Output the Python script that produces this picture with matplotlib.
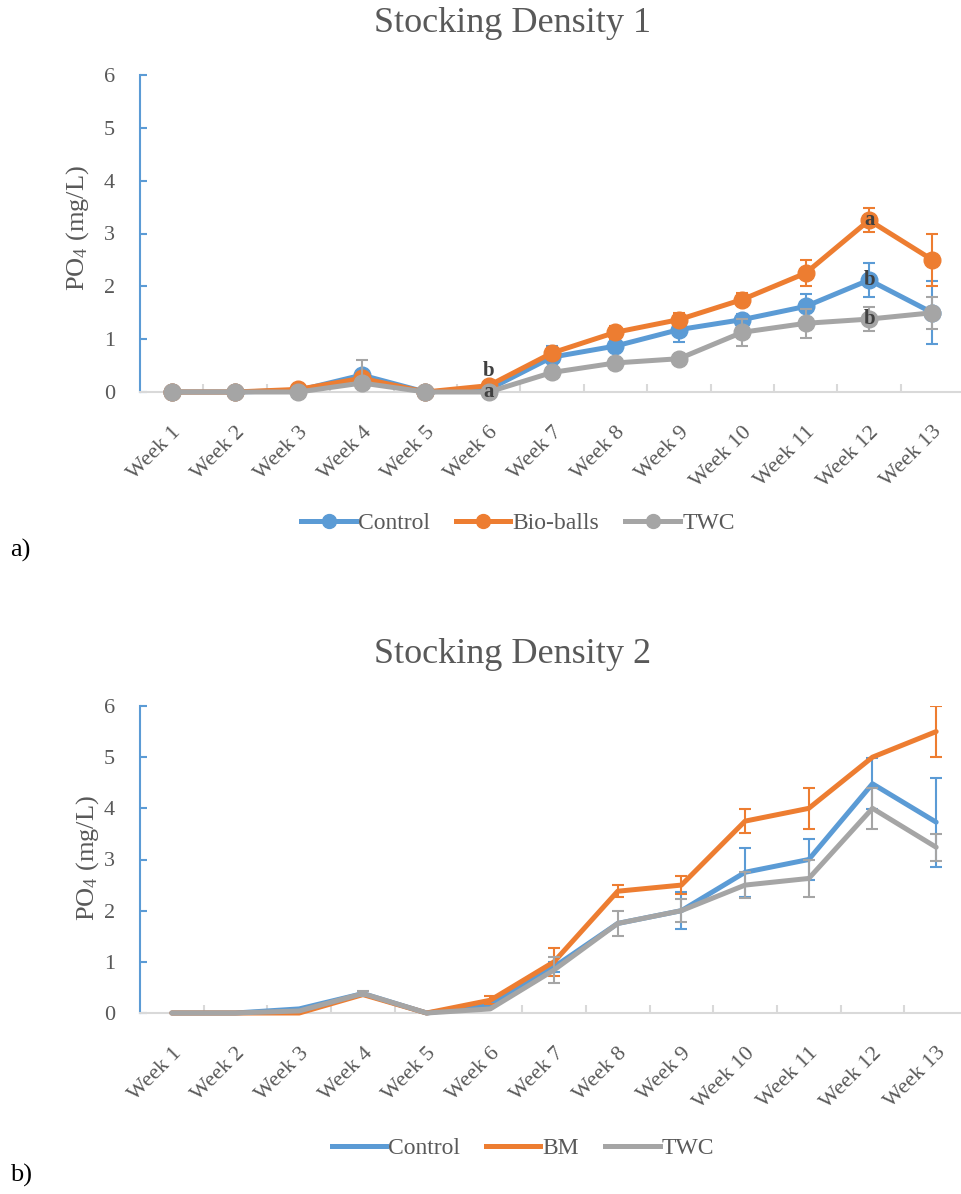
import matplotlib.pyplot as plt
import numpy as np
from matplotlib.lines import Line2D

plt.rcParams['font.family'] = ['Liberation Serif', 'DejaVu Serif']
plt.rcParams['mathtext.default'] = 'regular'

weeks = ["Week 1", "Week 2", "Week 3", "Week 4", "Week 5", "Week 6", "Week 7",
         "Week 8", "Week 9", "Week 10", "Week 11", "Week 12", "Week 13"]

# Stocking density 1 (mean PO4, mg/L) and error bars
ctrl1 = [0, 0, 0.03, 0.32, 0, 0.05, 0.66, 0.87, 1.18, 1.37, 1.62, 2.12, 1.50]
bio1 = [0, 0, 0.05, 0.26, 0, 0.12, 0.74, 1.13, 1.37, 1.75, 2.25, 3.25, 2.50]
twc1 = [0, 0, 0, 0.17, 0, 0, 0.37, 0.55, 0.63, 1.13, 1.30, 1.38, 1.50]
ctrl1_err = [0, 0, 0, 0, 0, 0, 0.22, 0.10, 0.24, 0.10, 0.23, 0.32, 0.60]
bio1_err = [0, 0, 0, 0, 0, 0, 0.10, 0.12, 0.12, 0.12, 0.25, 0.23, 0.50]
twc1_err = [0, 0, 0, 0.43, 0, 0, 0.08, 0.10, 0.08, 0.25, 0.27, 0.23, 0.30]

# Stocking density 2
ctrl2 = [0, 0, 0.08, 0.38, 0, 0.16, 0.90, 1.75, 2.00, 2.75, 3.00, 4.48, 3.73]
bm2 = [0, 0, 0, 0.36, 0, 0.25, 1.00, 2.38, 2.50, 3.75, 4.00, 5.00, 5.50]
twc2 = [0, 0, 0.04, 0.38, 0, 0.08, 0.84, 1.75, 2.00, 2.50, 2.63, 4.00, 3.24]
ctrl2_err = [0, 0, 0, 0, 0, 0, 0.10, 0, 0.36, 0.48, 0.40, 0.50, 0.87]
bm2_err = [0, 0, 0, 0, 0, 0.08, 0.27, 0.12, 0.18, 0.24, 0.40, 0, 0.50]
twc2_err = [0, 0, 0, 0.05, 0, 0, 0.25, 0.25, 0.22, 0.26, 0.37, 0.40, 0.26]

# significance letters: (week index, y, letter)
letters1 = [(5, 0.40, "b"), (5, 0.0, "a"), (11, 3.25, "a"), (11, 2.12, "b"), (11, 1.38, "b")]

BLUE = "#5B9BD5"
ORANGE = "#ED7D31"
GRAY = "#A5A5A5"
TXT = "#595959"

W, H = 961, 1194
fig = plt.figure(figsize=(W / 100, H / 100), dpi=100)


def style_axes(ax, xmax):
    ax.set_xlim(-0.5, xmax)
    ax.set_ylim(0, 6)
    for s in ["top", "right"]:
        ax.spines[s].set_visible(False)
    ax.spines["left"].set_color(BLUE)
    ax.spines["left"].set_linewidth(1.5)
    ax.spines["bottom"].set_color("#D9D9D9")
    ax.spines["bottom"].set_linewidth(1.5)
    ax.set_yticks(range(7))
    ax.tick_params(axis="y", direction="in", length=5, width=1.5, color=BLUE,
                   labelcolor=TXT, labelsize=16, pad=18)
    ax.set_xticks(range(len(weeks)))
    ax.set_xticklabels(weeks, rotation=45, ha="right", va="top",
                       rotation_mode="anchor", color=TXT, fontsize=16)
    ax.tick_params(axis="x", length=0, pad=22)
    ax.set_xticks(np.arange(0.5, len(weeks) - 1, 1), minor=True)
    ax.tick_params(axis="x", which="minor", direction="in", length=6,
                   width=1.5, color="#D9D9D9")


def draw_series(ax, y, err, color, z, marker):
    x = np.arange(len(y))
    ax.plot(x, y, color=color, lw=3.6, marker=marker, ms=12,
            zorder=z, solid_capstyle="round", clip_on=False)
    e = np.array(err)
    keep = e > 0
    ax.errorbar(x[keep], np.array(y)[keep], yerr=e[keep], fmt="none",
                ecolor=color, elinewidth=1.5, capsize=4.3, capthick=1.5,
                zorder=z + 0.5)


# a) stocking density 1
ax1 = fig.add_axes([140 / W, 802 / H, (W - 140) / W, 317 / H])
style_axes(ax1, 12.45)
draw_series(ax1, ctrl1, ctrl1_err, BLUE, 3, "o")
draw_series(ax1, bio1, bio1_err, ORANGE, 4, "o")
draw_series(ax1, twc1, twc1_err, GRAY, 5, "o")
for i, yv, t in letters1:
    ax1.text(i, yv, t, ha="center", va="center", fontsize=15,
             fontweight="bold", color="#404040", zorder=10)

fig.text(513 / W, 1 - 24 / H, "Stocking Density 1", ha="center", va="center",
         fontsize=26, color=TXT)
fig.text(78 / W, 1 - 228 / H, "PO$_4$ (mg/L)", rotation=90, ha="center",
         va="center", fontsize=19, color=TXT)
h1 = [Line2D([], [], color=c, lw=3.6, marker="o", ms=10) for c in (BLUE, ORANGE, GRAY)]
fig.legend(h1, ["Control", "Bio-balls", "TWC"], loc="center",
           bbox_to_anchor=(518 / W, 1 - 523 / H), ncol=3, frameon=False,
           fontsize=17, labelcolor=TXT, handlelength=2.3, handletextpad=0.1,
           columnspacing=1.1)
fig.text(10 / W, 1 - 550 / H, "a)", ha="left", va="center", fontsize=19)

# b) stocking density 2
ax2 = fig.add_axes([140 / W, 181 / H, (W - 140) / W, 307 / H])
style_axes(ax2, 12.39)
draw_series(ax2, ctrl2, ctrl2_err, BLUE, 3, None)
draw_series(ax2, bm2, bm2_err, ORANGE, 4, None)
draw_series(ax2, twc2, twc2_err, GRAY, 5, None)

fig.text(513 / W, 1 - 655 / H, "Stocking Density 2", ha="center", va="center",
         fontsize=26, color=TXT)
fig.text(88 / W, 1 - 858 / H, "PO$_4$ (mg/L)", rotation=90, ha="center",
         va="center", fontsize=19, color=TXT)
h2 = [Line2D([], [], color=c, lw=3.6) for c in (BLUE, ORANGE, GRAY)]
fig.legend(h2, ["Control", "BM", "TWC"], loc="center",
           bbox_to_anchor=(523 / W, 1 - 1148 / H), ncol=3, frameon=False,
           fontsize=17, labelcolor=TXT, handlelength=2.3, handletextpad=0.1,
           columnspacing=1.1)
fig.text(10 / W, 1 - 1175 / H, "b)", ha="left", va="center", fontsize=19)

fig.savefig("out.png", dpi=100)
